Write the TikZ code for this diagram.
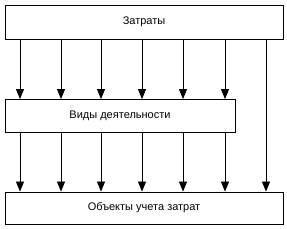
\documentclass[tikz,border=0pt]{standalone}
\usepackage{fontspec}
\setmainfont{Liberation Sans}
\usepackage{tikz}
\usetikzlibrary{arrows.meta, positioning, calc}

\begin{document}
\begin{tikzpicture}[
    x=1pt, y=-1pt,
    levelbox/.style={rectangle, draw, line width=0.8pt, inner sep=0pt, align=center, font=\fontsize{11}{13}\selectfont},
    flow/.style={draw, line width=0.8pt, -{Triangle[length=10pt 0,width=8pt 0]}}
]
    \useasboundingbox (0,0) rectangle (287,229);

    \node[levelbox, minimum width=278pt, minimum height=34pt] (zatraty) at (144, 22) {Затраты};
    \node[levelbox, minimum width=230pt, minimum height=33pt] (vidy) at (120, 116) {Виды деятельности};
    \node[levelbox, minimum width=278pt, minimum height=32pt] (obekty) at (144, 208) {Объекты учета затрат};

    % arrow positions along the top box
    \foreach \i/\x in {1/20, 2/61, 3/101, 4/142, 5/183, 6/225, 7/266}
        \coordinate (c\i) at (\x, 39);

    \foreach \i in {1,...,6} {
        \draw[flow] (c\i) -- (c\i |- vidy.north);
        \draw[flow] (c\i |- vidy.south) -- (c\i |- obekty.north);
    }
    \draw[flow] (c7) -- (c7 |- obekty.north);
\end{tikzpicture}
\end{document}
